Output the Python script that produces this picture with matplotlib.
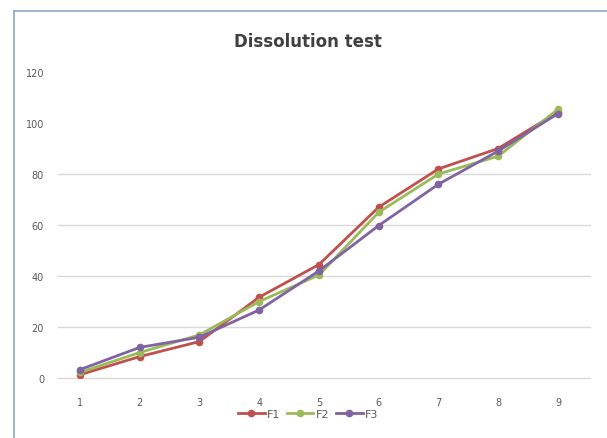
import numpy as np
import matplotlib.pyplot as plt
from matplotlib.lines import Line2D

# Data
times = [1, 2, 3, 4, 5, 6, 7, 8, 9]
f1 = [1.3, 8.4, 14.3, 31.7, 44.5, 67.0, 82.0, 90.0, 104.3]
f2 = [2.2, 10.0, 16.9, 30.0, 40.4, 65.0, 80.0, 87.0, 105.4]
f3 = [3.3, 12.0, 16.0, 26.7, 42.0, 59.8, 76.0, 89.0, 103.7]
y_ticks = [0, 20, 40, 60, 80, 100, 120]

fig = plt.figure(figsize=(6.07, 4.39), dpi=100)
ax = fig.add_axes([58 / 607, 60 / 439, 532 / 607, 306 / 439])

# series lines, Excel-like colours
ax.plot(times, f1, color='#C0504D', lw=2, marker='o', ms=4.5, label='F1')
ax.plot(times, f2, color='#9BBB59', lw=2, marker='o', ms=4.5, label='F2')
ax.plot(times, f3, color='#8064A2', lw=2, marker='o', ms=4.5, label='F3')

ax.set_xlim(0.632, 9.536)
ax.set_ylim(0, 120)
ax.set_xticks(times)
ax.set_yticks(y_ticks)

# gridlines (only the lower ones show in the reference)
for v in [0, 20, 40, 60, 80]:
    ax.axhline(v, color='#D9D9D9', lw=1, zorder=0, clip_on=False)

for s in ax.spines.values():
    s.set_visible(False)
ax.tick_params(length=0, colors='#595959', labelsize=7)
ax.tick_params(axis='y', pad=10)
ax.tick_params(axis='x', pad=14)

fig.text(308 / 607, 1 - 42 / 439, 'Dissolution test', ha='center', va='center',
         fontsize=12, fontweight='bold', color='#404040')

ax.legend(loc='center', bbox_to_anchor=(308 / 607, 1 - 415 / 439),
          bbox_transform=fig.transFigure, ncol=3, frameon=False,
          fontsize=8, handlelength=2.4, columnspacing=0.6, handletextpad=0.2,
          labelcolor='#595959')

# chart border (left and top edges visible)
fig.add_artist(Line2D([14 / 607, 14 / 607], [0, 1 - 12 / 439],
                      transform=fig.transFigure, color='#8EA9C8', lw=1.2))
fig.add_artist(Line2D([14 / 607, 1], [1 - 12 / 439, 1 - 12 / 439],
                      transform=fig.transFigure, color='#8EA9C8', lw=1.2))

fig.savefig('out.png', dpi=100)
